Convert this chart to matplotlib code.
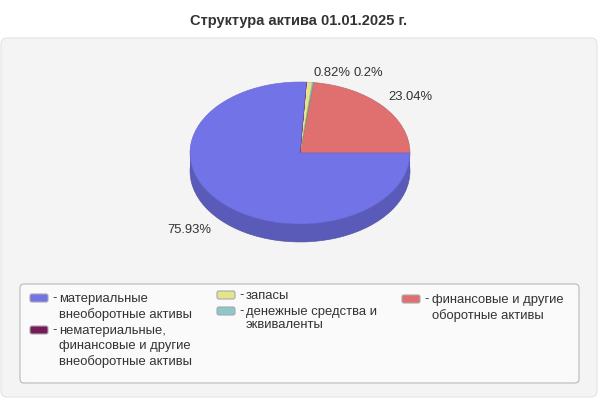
import matplotlib
matplotlib.use("Agg")
import matplotlib.pyplot as plt
from matplotlib.patches import FancyBboxPatch, Rectangle

plt.rcParams["font.family"] = ["Liberation Sans", "DejaVu Sans"]

# Slices, counter-clockwise from the east.
names = ["финансовые и другие\nоборотные активы",
         "денежные средства и\nэквиваленты",
         "запасы",
         "нематериальные,\nфинансовые и другие\nвнеоборотные активы",
         "материальные\nвнеоборотные активы"]
values = [23.04, 0.2, 0.82, 0.01, 75.93]
labels = ["23.04%", "0.2%", "0.82%", "", "75.93%"]
colors = ["#e07070", "#8cc8c8", "#e4e48c", "#761a5a", "#7373e8"]
edges = ["#b86060", "#5f8f8f", "#b8b868", "#761a5a", "#6464d0"]
side = "#5a5ab8"
title = "Структура актива 01.01.2025 г."

W, H = 600, 400
fig = plt.figure(figsize=(W / 100, H / 100), dpi=100)
fig.patch.set_facecolor("white")

# Background layer in pixel coordinates.
bg = fig.add_axes([0, 0, 1, 1])
bg.set_xlim(0, W)
bg.set_ylim(H, 0)
bg.axis("off")

bg.add_patch(FancyBboxPatch((6, 43), 586, 349, boxstyle="round,pad=5,rounding_size=6",
                            fc="#f4f4f4", ec="#e4e4e4", lw=0.8))
bg.add_patch(FancyBboxPatch((23, 287), 553, 93, boxstyle="round,pad=3,rounding_size=4",
                            fc="#fafafa", ec="#b0b0b0", lw=0.7))
bg.text(299, 21, title, ha="center", va="center", fontsize=10.5, fontweight="bold", color="#333333")

# Pie: squashed circle with a darker copy underneath for the rim.
px, py, rx, ry, depth = 190, 82, 110, 71, 18
pie = fig.add_axes([px / W, 1 - (py + 2 * ry + depth) / H, 2 * rx / W, (2 * ry + depth) / H])
d = depth / ry
pie.pie(values, colors=[side] * 5, center=(0, -d), startangle=0, counterclock=True,
        wedgeprops={"edgecolor": "#50509f", "linewidth": 0.4})
pie.add_patch(Rectangle((-1, -d), 2, d, fc=side, ec="none"))
wedges, _ = pie.pie(values, colors=colors, startangle=0, counterclock=True,
                    wedgeprops={"linewidth": 0.4})
for w, e in zip(wedges, edges):
    w.set_edgecolor(e)
pie.set_aspect("auto")
pie.set_xlim(-1, 1)
pie.set_ylim(-1 - d, 1)
pie.axis("off")

# Slice labels.
label_pos = [(388, 97), (354, 73), (313, 73), None, (167, 230)]
for lab, pos in zip(labels, label_pos):
    if pos:
        bg.text(pos[0], pos[1], lab, ha="left", va="center", fontsize=9.4, color="#333333", zorder=5)

# Legend: hand placed columns, as in the original.
rows = [(4, 30, 298, 59, 15.7),
        (3, 30, 330, 59, 15.5),
        (2, 217, 295, 246, 15.5),
        (1, 217, 311, 246, 12.5),
        (0, 402, 299, 432, 15.7)]
for i, sx, sy, tx, step in rows:
    bg.add_patch(FancyBboxPatch((sx + 1, sy - 3), 16, 6, boxstyle="round,pad=1,rounding_size=2",
                                fc=colors[i], ec="#a8a8a8", lw=0.8))
    bg.text(sx + 22, sy + 0.5, "-", ha="left", va="center", fontsize=9.4, color="#333333")
    for n, line in enumerate(names[i].split("\n")):
        bg.text(tx, sy + 1 + n * step, line, ha="left", va="center", fontsize=9.4, color="#333333")

fig.savefig("out.png", dpi=100)
